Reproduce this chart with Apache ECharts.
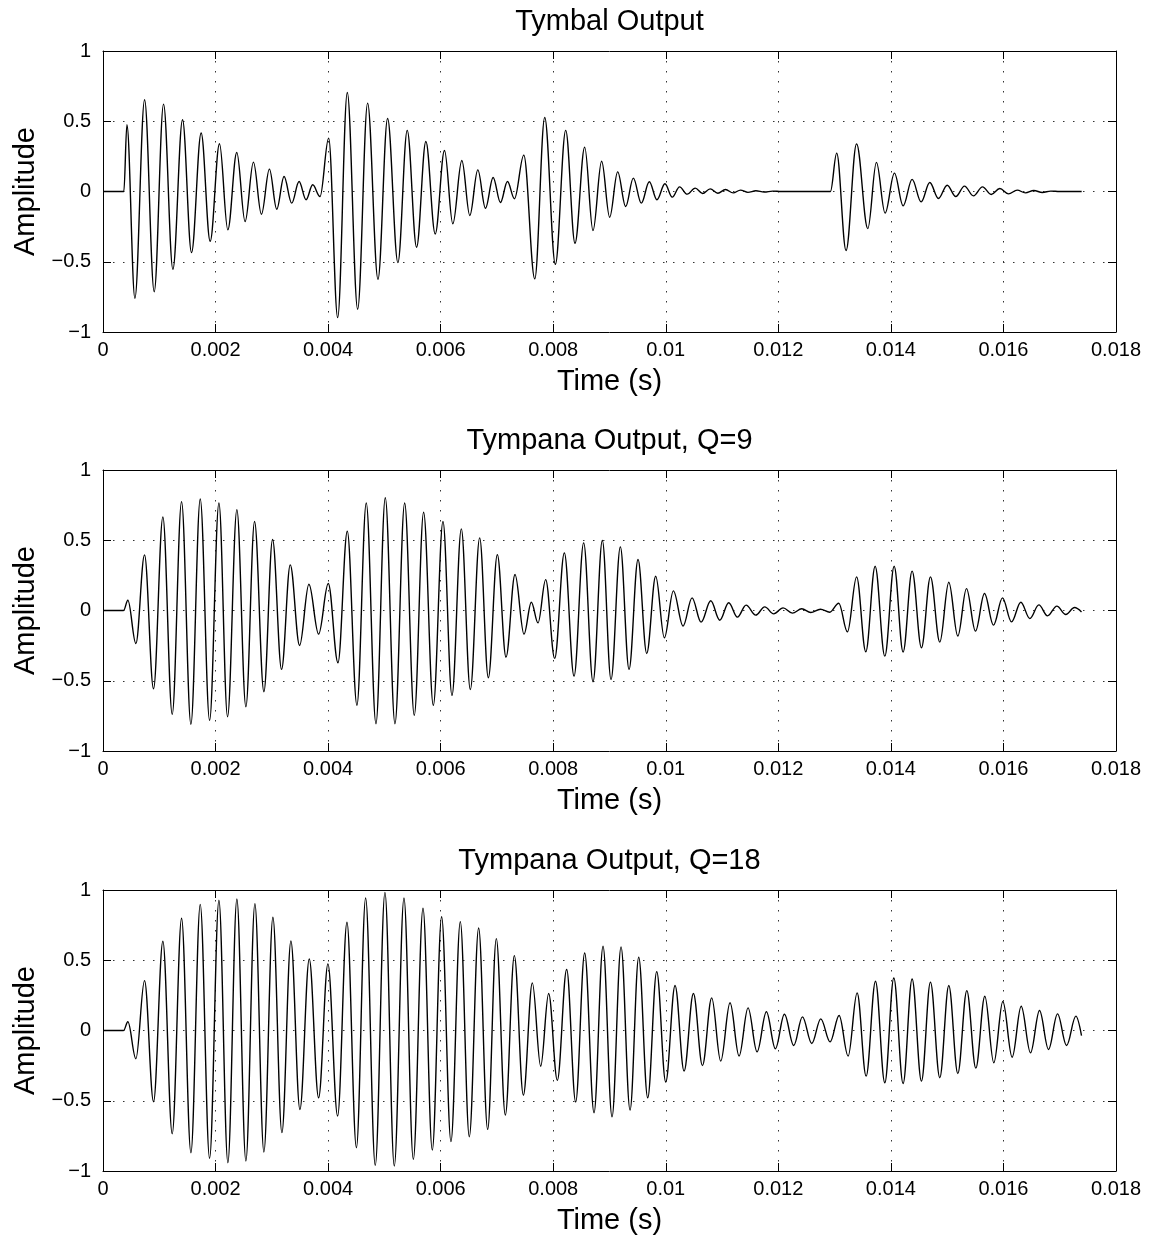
<!DOCTYPE html>
<html>
<head>
<meta charset="utf-8">
<title>Tymbal and Tympana Output</title>
<script src="https://cdn.jsdelivr.net/npm/echarts@6/dist/echarts.min.js"></script>
<style>
  html, body { margin: 0; padding: 0; background: #fff; }
  #chart { width: 1155px; height: 1241px; }
</style>
</head>
<body>
<div id="chart"></div>
<script>
// Waveform extrema as [time (ms), amplitude]; the line is smoothed through them.
const tymbalOutput = [
  [0,0],[0.37,0],[0.425,0.475],[0.567,-0.76],[0.739,0.653],[0.910,-0.713],[1.076,0.622],[1.242,-0.553],
  [1.413,0.511],[1.573,-0.435],[1.744,0.416],[1.904,-0.354],[2.070,0.340],[2.218,-0.273],[2.377,0.278],
  [2.525,-0.214],[2.673,0.209],[2.815,-0.162],[2.957,0.159],[3.087,-0.126],[3.217,0.107],[3.353,-0.083],
  [3.484,0.071],[3.608,-0.059],[3.726,0.048],[3.856,-0.036],[4.010,0.380],[4.170,-0.898],[4.341,0.705],
  [4.525,-0.838],[4.702,0.629],[4.886,-0.625],[5.057,0.520],[5.240,-0.506],[5.406,0.435],[5.572,-0.397],
  [5.737,0.356],[5.903,-0.302],[6.068,0.292],[6.216,-0.230],[6.376,0.221],[6.518,-0.171],[6.660,0.154],
  [6.796,-0.119],[6.932,0.100],[7.062,-0.078],[7.187,0.071],[7.311,-0.052],[7.477,0.259],[7.672,-0.622],
  [7.849,0.527],[8.038,-0.518],[8.222,0.435],[8.387,-0.368],[8.559,0.316],[8.707,-0.278],[8.860,0.215],
  [9.003,-0.183],[9.145,0.140],[9.287,-0.107],[9.423,0.095],[9.565,-0.083],[9.707,0.069],[9.843,-0.059],
  [9.985,0.055],[10.115,-0.040],[10.245,0.033],[10.381,-0.019],[10.523,0.024],[10.653,-0.014],[10.789,0.019],
  [10.925,-0.012],[11.061,0.014],[11.197,-0.010],[11.327,0.010],[11.46,-0.006],[11.60,0.005],[11.75,-0.004],
  [11.90,0.003],[12.05,0],[12.925,0],[13.037,0.273],[13.203,-0.420],[13.390,0.339],[13.590,-0.264],
  [13.743,0.207],[13.897,-0.154],[14.063,0.131],[14.217,-0.102],[14.377,0.086],[14.537,-0.074],[14.691,0.064],
  [14.845,-0.050],[15.000,0.045],[15.153,-0.036],[15.307,0.038],[15.467,-0.031],[15.628,0.033],[15.782,-0.021],
  [15.935,0.021],[16.090,-0.017],[16.244,0.010],[16.390,-0.010],[16.540,0.007],[16.690,-0.007],[16.840,0.003],
  [17.000,0],[17.390,0]
];

const tympanaQ9 = [
  [0,0],[0.365,0],[0.442,0.073],[0.584,-0.235],[0.738,0.396],[0.898,-0.557],[1.064,0.666],[1.230,-0.739],
  [1.396,0.775],[1.562,-0.810],[1.728,0.794],[1.894,-0.782],[2.060,0.765],[2.213,-0.756],[2.379,0.718],
  [2.539,-0.685],[2.693,0.633],[2.859,-0.578],[3.013,0.505],[3.173,-0.419],[3.327,0.325],[3.493,-0.249],
  [3.659,0.187],[3.831,-0.168],[4.003,0.192],[4.175,-0.372],[4.341,0.564],[4.512,-0.674],[4.678,0.765],
  [4.850,-0.806],[5.016,0.803],[5.188,-0.806],[5.360,0.765],[5.531,-0.746],[5.697,0.699],[5.869,-0.675],
  [6.041,0.633],[6.201,-0.604],[6.367,0.581],[6.527,-0.562],[6.693,0.517],[6.847,-0.479],[7.007,0.398],
  [7.161,-0.332],[7.321,0.256],[7.481,-0.168],[7.611,0.059],[7.730,-0.088],[7.866,0.220],[8.026,-0.341],
  [8.198,0.410],[8.370,-0.467],[8.541,0.481],[8.707,-0.507],[8.873,0.498],[9.027,-0.491],[9.193,0.453],
  [9.347,-0.419],[9.507,0.363],[9.661,-0.306],[9.821,0.244],[9.975,-0.194],[10.135,0.140],[10.307,-0.111],
  [10.467,0.090],[10.627,-0.083],[10.799,0.069],[10.959,-0.069],[11.119,0.055],[11.273,-0.047],[11.427,0.038],
  [11.598,-0.033],[11.758,0.026],[11.918,-0.024],[12.084,0.019],[12.250,-0.019],[12.416,0.012],[12.576,-0.014],
  [12.748,0.009],[12.914,-0.012],[13.074,0.052],[13.228,-0.152],[13.391,0.239],[13.554,-0.294],[13.720,0.315],
  [13.892,-0.325],[14.058,0.315],[14.217,-0.296],[14.377,0.280],[14.543,-0.265],[14.703,0.239],[14.869,-0.225],
  [15.029,0.201],[15.189,-0.182],[15.343,0.156],[15.503,-0.147],[15.663,0.121],[15.823,-0.104],[15.983,0.090],
  [16.143,-0.081],[16.309,0.059],[16.469,-0.057],[16.629,0.040],[16.783,-0.038],[16.949,0.031],[17.108,-0.028],
  [17.263,0.021],[17.387,-0.010]
];

const tympanaQ18 = [
  [0,0],[0.365,0],[0.442,0.062],[0.584,-0.201],[0.738,0.355],[0.898,-0.507],[1.064,0.635],[1.230,-0.735],
  [1.396,0.799],[1.562,-0.870],[1.728,0.898],[1.894,-0.910],[2.060,0.927],[2.219,-0.941],[2.379,0.936],
  [2.539,-0.929],[2.699,0.903],[2.859,-0.865],[3.019,0.806],[3.179,-0.727],[3.339,0.637],[3.499,-0.562],
  [3.665,0.509],[3.831,-0.479],[3.997,0.474],[4.169,-0.609],[4.335,0.770],[4.503,-0.834],[4.667,0.943],
  [4.838,-0.960],[5.010,0.983],[5.176,-0.964],[5.348,0.943],[5.514,-0.917],[5.686,0.870],[5.851,-0.851],
  [6.017,0.810],[6.183,-0.791],[6.349,0.775],[6.509,-0.756],[6.675,0.730],[6.835,-0.704],[6.989,0.654],
  [7.149,-0.602],[7.309,0.533],[7.469,-0.460],[7.629,0.339],[7.777,-0.254],[7.919,0.263],[8.073,-0.355],
  [8.239,0.434],[8.399,-0.509],[8.559,0.552],[8.725,-0.585],[8.885,0.600],[9.045,-0.614],[9.205,0.595],
  [9.365,-0.566],[9.519,0.521],[9.679,-0.479],[9.839,0.419],[9.999,-0.367],[10.165,0.320],[10.325,-0.289],
  [10.491,0.263],[10.651,-0.249],[10.816,0.232],[10.976,-0.218],[11.142,0.197],[11.302,-0.182],[11.462,0.161],
  [11.622,-0.152],[11.788,0.133],[11.948,-0.130],[12.108,0.116],[12.274,-0.107],[12.428,0.097],[12.594,-0.092],
  [12.754,0.083],[12.920,-0.081],[13.080,0.107],[13.240,-0.182],[13.400,0.268],[13.560,-0.325],[13.726,0.351],
  [13.892,-0.372],[14.052,0.374],[14.217,-0.377],[14.377,0.367],[14.543,-0.360],[14.703,0.344],[14.869,-0.336],
  [15.029,0.320],[15.189,-0.306],[15.349,0.284],[15.509,-0.268],[15.669,0.244],[15.829,-0.230],[15.989,0.206],
  [16.155,-0.190],[16.315,0.173],[16.481,-0.159],[16.641,0.142],[16.801,-0.135],[16.961,0.118],[17.121,-0.107],
  [17.287,0.102],[17.387,-0.036]
];

const panelTitles = ['Tymbal Output', 'Tympana Output, Q=9', 'Tympana Output, Q=18'];
const panelSeries = [tymbalOutput, tympanaQ9, tympanaQ18];
const timeTicksMs = { min: 0, max: 18, step: 2 };
const ampTicks = { min: -1, max: 1, step: 0.5 };

const FONT = '"Liberation Sans", Arial, Helvetica, sans-serif';
const plotLeft = 103, plotWidth = 1013, plotHeight = 281;
const plotTops = [51, 470, 890];

const chart = echarts.init(document.getElementById('chart'), null, { renderer: 'canvas' });

const grids = [], xAxes = [], yAxes = [], series = [], graphics = [];
const tickStyle = { inside: true, length: 8, lineStyle: { color: '#000', width: 1 } };
const axisLineStyle = { show: true, onZero: false, lineStyle: { color: '#000', width: 1 } };
const dotted = { show: true, lineStyle: { color: '#333', width: 1, type: [1.5, 8.5] } };

// Amplitude ticks use a true minus sign
const ampLabel = v => (v < 0 ? '\u2212' + String(-v) : String(v));

panelSeries.forEach((data, i) => {
  grids.push({ left: plotLeft, top: plotTops[i], width: plotWidth, height: plotHeight, containLabel: false });

  xAxes.push({
    gridIndex: i, type: 'value', position: 'bottom',
    min: timeTicksMs.min, max: timeTicksMs.max, interval: timeTicksMs.step,
    axisLine: axisLineStyle, axisTick: tickStyle, splitLine: dotted,
    axisLabel: { color: '#000', fontSize: 20, fontFamily: FONT, margin: 8,
                 formatter: v => String(v / 1000) },
    name: 'Time (s)', nameLocation: 'middle', nameGap: 35,
    nameTextStyle: { color: '#000', fontSize: 29, fontFamily: FONT }
  });
  xAxes.push({
    gridIndex: i, type: 'value', position: 'top',
    min: timeTicksMs.min, max: timeTicksMs.max, interval: timeTicksMs.step,
    axisLine: axisLineStyle, axisTick: tickStyle,
    axisLabel: { show: false }, splitLine: { show: false }
  });

  yAxes.push({
    gridIndex: i, type: 'value', position: 'left',
    min: ampTicks.min, max: ampTicks.max, interval: ampTicks.step,
    axisLine: axisLineStyle, axisTick: tickStyle, splitLine: dotted,
    axisLabel: { color: '#000', fontSize: 20, fontFamily: FONT, margin: 12, formatter: ampLabel },
    name: 'Amplitude', nameLocation: 'middle', nameGap: 60, nameRotate: 90,
    nameTextStyle: { color: '#000', fontSize: 29, fontFamily: FONT }
  });
  yAxes.push({
    gridIndex: i, type: 'value', position: 'right',
    min: ampTicks.min, max: ampTicks.max, interval: ampTicks.step,
    axisLine: axisLineStyle, axisTick: tickStyle,
    axisLabel: { show: false }, splitLine: { show: false }
  });

  series.push({
    type: 'line', name: panelTitles[i],
    xAxisIndex: i * 2, yAxisIndex: i * 2,
    data: data,
    showSymbol: false, smooth: 0.36, smoothMonotone: 'x',
    lineStyle: { color: '#000', width: 1.4 },
    animation: false, silent: true
  });

  graphics.push({
    type: 'text', x: plotLeft + plotWidth / 2, y: plotTops[i] - 29,
    style: { text: panelTitles[i], fill: '#000', fontSize: 29, fontFamily: FONT,
             align: 'center', verticalAlign: 'middle' }
  });
});

chart.setOption({
  backgroundColor: '#fff',
  animation: false,
  grid: grids,
  xAxis: xAxes,
  yAxis: yAxes,
  series: series,
  graphic: graphics
});
</script>
</body>
</html>
